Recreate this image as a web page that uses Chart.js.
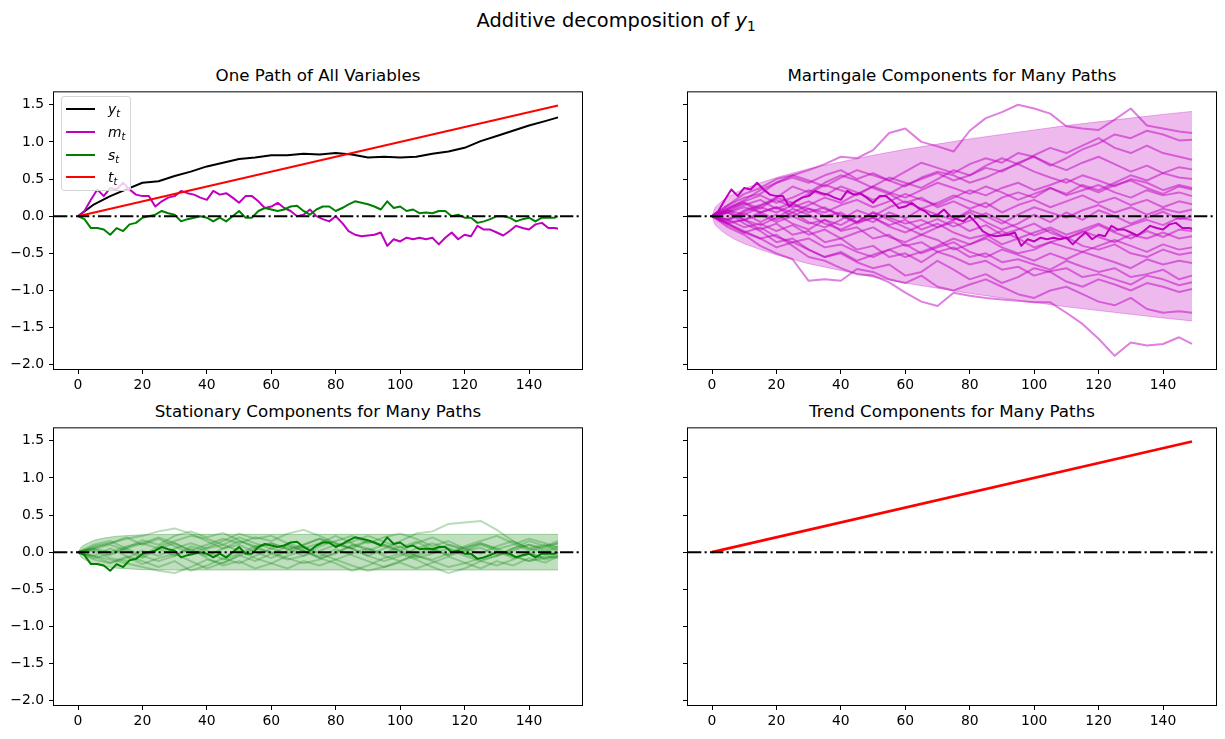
<!DOCTYPE html>
<html>
<head>
<meta charset="utf-8">
<title>Additive decomposition of y1</title>
<script src="https://cdn.jsdelivr.net/npm/chart.js@4.4.0/dist/chart.umd.min.js"></script>
<style>
    body { margin: 0; width: 1225px; height: 739px; overflow: hidden; background: #fff;
           font-family: "DejaVu Sans", sans-serif; color: #000; position: relative; }
    canvas { position: absolute; }
    .title { position: absolute; text-align: center; white-space: nowrap; }
    .suptitle { left: 116px; width: 1000px; top: 11px; font-size: 19.4px; line-height: 19.4px; }
    .panel-title { width: 528px; font-size: 16.7px; line-height: 16.7px; }
    sub { font-size: 0.7em; vertical-align: -0.3em; line-height: 0; }
    #legend { position: absolute; left: 61px; top: 96px; width: 68px; height: 93px;
              border: 1px solid #d6d6d6; border-radius: 3px; background: rgba(255,255,255,0.8); }
    #legend .row { position: absolute; left: 0; height: 20px; width: 68px; }
    #legend .swatch { position: absolute; left: 4px; top: 9px; width: 29px; height: 2px; }
    #legend .label { position: absolute; left: 46px; top: 0; font-size: 13.9px; line-height: 20px; font-style: italic; }
</style>
</head>
<body>
<div class="title suptitle">Additive decomposition of <i>y</i><sub>1</sub></div>
<div class="title panel-title" style="left:54px; top:67px">One Path of All Variables</div>
<div class="title panel-title" style="left:688px; top:67px">Martingale Components for Many Paths</div>
<div class="title panel-title" style="left:54px; top:403px">Stationary Components for Many Paths</div>
<div class="title panel-title" style="left:688px; top:403px">Trend Components for Many Paths</div>

<canvas id="allVars" width="590" height="330" style="left:0px; top:79px"></canvas>
<canvas id="martingale" width="590" height="330" style="left:634px; top:79px"></canvas>
<canvas id="stationary" width="590" height="330" style="left:0px; top:415px"></canvas>
<canvas id="trend" width="590" height="330" style="left:634px; top:415px"></canvas>

<div id="legend">
    <div class="row" style="top:2px"><div class="swatch" style="background:#000"></div><div class="label">y<sub>t</sub></div></div>
    <div class="row" style="top:25px"><div class="swatch" style="background:#bf00bf"></div><div class="label">m<sub>t</sub></div></div>
    <div class="row" style="top:48px"><div class="swatch" style="background:#008000"></div><div class="label">s<sub>t</sub></div></div>
    <div class="row" style="top:70px"><div class="swatch" style="background:#ff0000"></div><div class="label">t<sub>t</sub></div></div>
</div>

<script>
const tFine = [0, 2, 4, 6, 8, 10, 12, 14, 16, 18, 20, 22, 24, 26, 28, 30, 32, 34, 36, 38,
    40, 42, 44, 46, 48, 50, 52, 54, 56, 58, 60, 62, 64, 66, 68, 70, 72, 74, 76, 78,
    80, 82, 84, 86, 88, 90, 92, 94, 96, 98, 100, 102, 104, 106, 108, 110, 112, 114, 116, 118,
    120, 122, 124, 126, 128, 130, 132, 134, 136, 138, 140, 142, 144, 146, 148, 149];
const tCoarse = [0, 5, 10, 15, 20, 25, 30, 35, 40, 45, 50, 55, 60, 65, 70, 75, 80, 85, 90, 95,
    100, 105, 110, 115, 120, 125, 130, 135, 140, 145, 149];

// one path of all variables
const yPath = [0, 0.16, 0.27, 0.36, 0.45, 0.47, 0.54, 0.60, 0.67, 0.72, 0.77, 0.79, 0.82, 0.82, 0.84, 0.83,
    0.85, 0.83, 0.79, 0.80, 0.79, 0.80, 0.84, 0.87, 0.92, 1.01, 1.08, 1.15, 1.22, 1.28, 1.33];
const mPath = [0, 0.07, 0.22, 0.36, 0.27, 0.38, 0.36, 0.45, 0.36, 0.29,
    0.27, 0.27, 0.13, 0.20, 0.25, 0.27, 0.34, 0.31, 0.29, 0.25,
    0.22, 0.34, 0.29, 0.31, 0.25, 0.18, 0.27, 0.27, 0.20, 0.11,
    0.13, 0.18, 0.11, 0.07, 0.00, 0.02, 0.09, 0.00, -0.04, -0.07,
    0.00, -0.09, -0.20, -0.25, -0.27, -0.26, -0.25, -0.22, -0.40, -0.31,
    -0.34, -0.29, -0.31, -0.29, -0.31, -0.29, -0.38, -0.29, -0.22, -0.31,
    -0.25, -0.27, -0.13, -0.18, -0.18, -0.22, -0.26, -0.20, -0.13, -0.16,
    -0.18, -0.11, -0.09, -0.16, -0.16, -0.17];
const sPath = [0, -0.04, -0.16, -0.16, -0.18, -0.25, -0.16, -0.20, -0.11, -0.09,
    -0.02, 0.00, 0.02, 0.07, 0.04, 0.02, -0.07, -0.04, -0.02, 0.00,
    -0.02, -0.07, -0.02, -0.07, 0.00, 0.07, -0.02, -0.02, 0.07, 0.11,
    0.09, 0.07, 0.09, 0.13, 0.14, 0.07, 0.02, 0.09, 0.13, 0.13,
    0.07, 0.11, 0.16, 0.20, 0.18, 0.16, 0.13, 0.09, 0.20, 0.11,
    0.13, 0.07, 0.09, 0.04, 0.05, 0.04, 0.07, 0.07, 0.00, 0.02,
    -0.02, -0.02, -0.09, -0.07, -0.04, 0.00, 0.00, -0.02, -0.07, -0.04,
    -0.02, -0.07, -0.02, -0.02, -0.02, 0.00];
const trendT = [0, 149];
const trendPath = [0, 1.49];

// martingale components, many paths (sampled every 5 steps)
const martingalePaths = [
    [0, 0.15, 0.25, 0.30, 0.45, 0.55, 0.62, 0.70, 0.80, 0.78, 0.89, 1.12, 1.18, 1.00, 0.94, 0.87, 1.15, 1.32, 1.40, 1.50, 1.45, 1.38, 1.21, 1.18, 1.16, 1.30, 1.45, 1.22, 1.18, 1.14, 1.12],
    [0, -0.10, -0.20, -0.30, -0.25, -0.40, -0.55, -0.60, -0.70, -0.78, -0.80, -0.89, -1.03, -1.15, -1.21, -1.03, -1.07, -1.10, -1.12, -1.14, -1.16, -1.16, -1.30, -1.45, -1.65, -1.88, -1.70, -1.74, -1.72, -1.63, -1.72],
    [0, -0.15, -0.25, -0.40, -0.50, -0.58, -0.87, -0.85, -0.87, -0.71, -0.75, -0.85, -0.90, -0.80, -0.95, -1.00, -0.92, -0.85, -0.95, -1.05, -1.10, -1.00, -0.95, -1.05, -1.15, -1.20, -1.10, -1.25, -1.30, -1.28, -1.30],
    [0, 0.05, -0.10, -0.20, -0.35, -0.30, -0.45, -0.55, -0.50, -0.62, -0.70, -0.65, -0.80, -0.75, -0.60, -0.72, -0.85, -0.78, -0.90, -0.82, -0.70, -0.75, -0.88, -0.95, -0.85, -0.92, -1.00, -0.90, -0.95, -1.02, -0.98],
    [0, -0.08, -0.05, -0.18, -0.10, -0.25, -0.20, -0.35, -0.30, -0.45, -0.40, -0.55, -0.50, -0.62, -0.48, -0.55, -0.65, -0.60, -0.72, -0.68, -0.80, -0.74, -0.70, -0.82, -0.78, -0.85, -0.92, -0.80, -0.85, -0.93, -0.89],
    [0, 0.10, 0.18, 0.05, 0.12, 0.00, -0.10, -0.05, -0.20, -0.15, -0.30, -0.25, -0.40, -0.35, -0.48, -0.42, -0.55, -0.50, -0.62, -0.58, -0.65, -0.72, -0.60, -0.68, -0.75, -0.70, -0.82, -0.78, -0.72, -0.85, -0.80],
    [0, -0.12, -0.22, -0.15, -0.28, -0.35, -0.30, -0.42, -0.38, -0.48, -0.55, -0.45, -0.38, -0.50, -0.42, -0.35, -0.48, -0.55, -0.45, -0.52, -0.60, -0.50, -0.58, -0.48, -0.55, -0.62, -0.70, -0.58, -0.65, -0.60, -0.63],
    [0, 0.08, 0.02, 0.12, 0.05, 0.15, 0.10, 0.00, 0.05, -0.08, -0.02, -0.12, -0.05, -0.18, -0.10, -0.22, -0.30, -0.25, -0.38, -0.30, -0.42, -0.35, -0.28, -0.40, -0.45, -0.38, -0.50, -0.55, -0.45, -0.52, -0.49],
    [0, -0.05, -0.15, -0.10, -0.20, -0.12, -0.25, -0.18, -0.30, -0.22, -0.15, -0.28, -0.35, -0.25, -0.32, -0.45, -0.38, -0.30, -0.42, -0.50, -0.45, -0.35, -0.42, -0.48, -0.40, -0.32, -0.40, -0.48, -0.38, -0.45, -0.42],
    [0, 0.06, 0.15, 0.22, 0.10, 0.18, 0.05, 0.12, 0.00, -0.08, 0.05, -0.02, -0.10, -0.05, -0.15, -0.08, -0.20, -0.12, -0.25, -0.18, -0.10, -0.22, -0.30, -0.20, -0.28, -0.35, -0.25, -0.30, -0.22, -0.30, -0.27],
    [0, -0.06, 0.04, -0.08, 0.02, -0.10, -0.18, -0.05, -0.12, 0.00, -0.08, 0.05, -0.03, 0.10, 0.02, -0.05, 0.08, 0.00, -0.10, 0.02, 0.12, 0.05, -0.02, 0.08, 0.15, 0.05, 0.12, 0.02, 0.10, 0.05, 0.09],
    [0, 0.12, 0.20, 0.28, 0.18, 0.25, 0.35, 0.28, 0.40, 0.32, 0.22, 0.30, 0.18, 0.25, 0.12, 0.20, 0.10, 0.18, 0.05, 0.15, 0.22, 0.12, 0.20, 0.28, 0.18, 0.25, 0.15, 0.22, 0.12, 0.20, 0.16],
    [0, -0.10, -0.05, 0.05, 0.12, 0.05, 0.15, 0.25, 0.18, 0.30, 0.40, 0.32, 0.25, 0.35, 0.45, 0.38, 0.30, 0.40, 0.32, 0.22, 0.30, 0.38, 0.28, 0.35, 0.42, 0.32, 0.25, 0.35, 0.28, 0.32, 0.27],
    [0, 0.05, -0.05, 0.02, -0.08, 0.00, 0.10, 0.05, 0.15, 0.22, 0.12, 0.20, 0.30, 0.22, 0.15, 0.25, 0.35, 0.28, 0.38, 0.45, 0.35, 0.42, 0.50, 0.40, 0.32, 0.42, 0.48, 0.38, 0.30, 0.40, 0.36],
    [0, 0.10, 0.22, 0.35, 0.45, 0.52, 0.45, 0.55, 0.62, 0.50, 0.58, 0.48, 0.40, 0.52, 0.60, 0.55, 0.45, 0.52, 0.62, 0.70, 0.60, 0.52, 0.45, 0.55, 0.48, 0.40, 0.50, 0.45, 0.35, 0.42, 0.38],
    [0, 0.08, 0.18, 0.10, 0.25, 0.40, 0.32, 0.45, 0.55, 0.48, 0.38, 0.30, 0.42, 0.50, 0.58, 0.48, 0.55, 0.65, 0.60, 0.72, 0.80, 0.70, 0.62, 0.72, 0.80, 0.70, 0.60, 0.68, 0.58, 0.66, 0.63],
    [0, -0.05, 0.08, 0.15, 0.25, 0.18, 0.30, 0.42, 0.35, 0.28, 0.40, 0.52, 0.45, 0.38, 0.50, 0.62, 0.55, 0.68, 0.78, 0.70, 0.82, 0.92, 0.85, 0.95, 1.05, 0.92, 0.85, 0.95, 0.85, 0.80, 0.76],
    [0, 0.15, 0.30, 0.38, 0.50, 0.55, 0.48, 0.40, 0.52, 0.62, 0.55, 0.48, 0.60, 0.72, 0.65, 0.58, 0.70, 0.78, 0.72, 0.85, 0.80, 0.68, 0.78, 0.90, 0.98, 1.10, 1.05, 1.15, 1.10, 1.02, 1.03],
    [0, -0.10, -0.22, -0.30, -0.42, -0.35, -0.45, -0.55, -0.48, -0.60, -0.52, -0.45, -0.55, -0.48, -0.40, -0.30, -0.38, -0.28, -0.20, -0.30, -0.22, -0.15, -0.25, -0.18, -0.10, -0.20, -0.12, -0.05, -0.12, -0.02, -0.05],
    [0, 0.05, 0.12, 0.05, -0.05, 0.05, -0.08, -0.15, -0.05, 0.08, 0.00, 0.12, 0.20, 0.10, 0.18, 0.28, 0.20, 0.12, 0.25, 0.32, 0.25, 0.38, 0.30, 0.42, 0.35, 0.45, 0.55, 0.48, 0.58, 0.52, 0.50],
    [0, 0.08, -0.05, -0.12, -0.02, 0.10, 0.02, -0.10, -0.18, -0.08, 0.05, -0.05, -0.15, -0.25, -0.15, -0.05, 0.05, -0.08, -0.18, -0.10, 0.02, -0.08, 0.05, -0.05, 0.08, 0.00, -0.10, -0.02, 0.06, -0.04, 0.00],
    [0, -0.04, 0.06, 0.14, 0.22, 0.12, 0.20, 0.10, 0.02, -0.10, -0.02, -0.14, -0.22, -0.12, -0.04, -0.14, -0.06, 0.04, -0.06, -0.16, -0.26, -0.18, -0.30, -0.22, -0.12, -0.22, -0.30, -0.20, -0.28, -0.18, -0.20]
];
const martBandT = [0, 1, 2, 3, 5, 7, 10, 15, 20, 30, 40, 50, 60, 70, 80, 90, 100, 110, 120, 130, 140, 149];
const martBandUpper = [0, 0.12, 0.16, 0.20, 0.26, 0.31, 0.37, 0.45, 0.52, 0.64, 0.73, 0.82, 0.90, 0.97, 1.04, 1.10, 1.16, 1.22, 1.27, 1.32, 1.37, 1.41];
const martBandLower = [0, -0.12, -0.16, -0.20, -0.26, -0.31, -0.37, -0.45, -0.52, -0.64, -0.73, -0.82, -0.90, -0.97, -1.04, -1.10, -1.16, -1.22, -1.27, -1.32, -1.37, -1.41];

// stationary components, many paths (sampled every 5 steps)
const stationaryPaths = [
    [0, 0.05, 0.10, 0.02, -0.08, 0.05, -0.05, 0.08, 0.02, -0.10, -0.02, 0.08, 0.12, 0.05, -0.05, 0.02, 0.10, 0.05, -0.05, 0.05, 0.15, 0.25, 0.28, 0.38, 0.40, 0.42, 0.30, 0.15, 0.05, 0.00, 0.05],
    [0, 0.08, 0.12, 0.18, 0.22, 0.28, 0.32, 0.25, 0.15, 0.05, 0.10, 0.00, -0.08, 0.02, 0.10, 0.18, 0.12, 0.05, -0.05, -0.12, -0.05, 0.05, 0.12, 0.05, -0.02, -0.10, -0.05, 0.05, 0.10, 0.02, 0.08],
    [0, -0.05, -0.10, -0.15, -0.20, -0.25, -0.28, -0.20, -0.10, -0.15, -0.05, 0.05, 0.00, -0.08, -0.15, -0.10, 0.00, 0.08, 0.15, 0.10, 0.02, -0.05, -0.12, -0.20, -0.15, -0.08, 0.00, -0.05, -0.12, -0.05, -0.08],
    [0, 0.05, 0.00, 0.08, 0.12, 0.05, 0.12, 0.02, 0.10, 0.18, 0.12, 0.20, 0.15, 0.25, 0.30, 0.22, 0.12, 0.05, 0.15, 0.08, 0.00, -0.08, -0.02, 0.05, -0.05, -0.12, -0.05, 0.02, 0.10, 0.05, 0.12],
    [0, -0.08, -0.02, 0.05, -0.05, -0.12, -0.05, 0.05, -0.08, -0.18, -0.12, -0.22, -0.15, -0.05, 0.02, -0.08, -0.15, -0.25, -0.18, -0.08, -0.02, -0.10, -0.20, -0.28, -0.22, -0.12, -0.18, -0.10, -0.02, -0.08, -0.05],
    [0, 0.10, 0.15, 0.05, 0.12, 0.20, 0.12, 0.02, -0.05, 0.05, 0.15, 0.08, -0.02, -0.10, -0.05, 0.08, 0.15, 0.22, 0.12, 0.20, 0.25, 0.18, 0.08, 0.15, 0.05, -0.02, 0.08, 0.15, 0.05, 0.10, 0.02],
    [0, -0.10, -0.15, -0.08, 0.02, -0.05, 0.05, 0.12, 0.05, 0.10, 0.02, -0.08, -0.15, -0.22, -0.12, -0.18, -0.10, -0.02, 0.05, -0.05, -0.12, -0.05, 0.02, 0.10, 0.05, 0.12, 0.05, -0.05, -0.12, -0.08, -0.02],
    [0, 0.02, -0.08, -0.12, -0.05, 0.08, 0.15, 0.22, 0.18, 0.10, 0.20, 0.12, 0.05, 0.10, 0.02, -0.08, -0.02, 0.10, 0.05, -0.02, 0.08, -0.05, -0.10, -0.02, 0.08, 0.15, 0.22, 0.12, 0.02, 0.08, 0.12],
    [0, -0.05, 0.05, -0.05, -0.12, -0.20, -0.12, -0.25, -0.18, -0.08, -0.15, -0.05, 0.05, -0.02, 0.08, -0.02, -0.10, -0.18, -0.25, -0.20, -0.12, -0.02, 0.05, -0.05, 0.02, 0.10, 0.02, -0.08, 0.00, -0.10, -0.05],
    [0, 0.06, 0.12, 0.20, 0.10, 0.18, 0.08, -0.02, 0.06, 0.15, 0.25, 0.18, 0.22, 0.12, 0.05, 0.12, 0.22, 0.12, 0.02, 0.10, 0.02, 0.12, 0.20, 0.10, 0.02, 0.06, -0.04, 0.05, 0.15, 0.08, 0.15],
    [0, -0.06, -0.14, -0.06, -0.16, -0.08, -0.02, -0.12, -0.22, -0.14, -0.04, -0.12, -0.02, 0.08, 0.02, -0.06, 0.04, -0.04, -0.12, -0.20, -0.14, -0.22, -0.14, -0.06, -0.14, -0.22, -0.12, -0.18, -0.08, -0.14, -0.06],
    [0, 0.04, -0.04, 0.06, 0.16, 0.10, 0.22, 0.28, 0.20, 0.26, 0.16, 0.06, 0.12, 0.04, 0.10, 0.18, 0.08, 0.14, 0.22, 0.14, 0.06, 0.14, 0.04, -0.04, 0.06, 0.12, 0.04, 0.10, 0.18, 0.12, 0.06]
];
const statBandT = [0, 1, 2, 3, 5, 8, 12, 20, 30, 149];
const statBandUpper = [0, 0.07, 0.10, 0.12, 0.16, 0.19, 0.215, 0.235, 0.24, 0.24];
const statBandLower = [0, -0.07, -0.10, -0.12, -0.16, -0.19, -0.215, -0.235, -0.24, -0.24];

// axes
const xTickValues = [0, 20, 40, 60, 80, 100, 120, 140];
const xTickLabels = ['0', '20', '40', '60', '80', '100', '120', '140'];
const yTickValues = [-2.0, -1.5, -1.0, -0.5, 0.0, 0.5, 1.0, 1.5];
const yTickLabels = ['\u22122.0', '\u22121.5', '\u22121.0', '\u22120.5', '0.0', '0.5', '1.0', '1.5'];
const xLimits = [-7.45, 156.45];
const yLimits = [-2.057, 1.667];

const tickFont = { family: 'DejaVu Sans', size: 13.9 };

const toPoints = (ts, vals) => ts.map((t, i) => ({ x: t, y: vals[i] }));

function lineSet(ts, vals, color, width, order) {
    return {
        data: toPoints(ts, vals),
        borderColor: color,
        borderWidth: width,
        fill: false,
        order: order
    };
}

function bandSets(ts, upper, lower, fillColor, edgeColor) {
    return [
        { data: toPoints(ts, upper), borderColor: edgeColor, borderWidth: 1,
          backgroundColor: fillColor, fill: '+1', order: 10 },
        { data: toPoints(ts, lower), borderColor: edgeColor, borderWidth: 1, fill: false, order: 10 }
    ];
}

// axes frame and the dash-dot zero line, drawn over the data like matplotlib does
const framePlugin = {
    id: 'frame',
    afterDatasetsDraw(chart) {
        const { ctx, chartArea: a, scales } = chart;
        const y0 = scales.y.getPixelForValue(0);
        ctx.save();
        ctx.strokeStyle = '#000';
        ctx.lineWidth = 2;
        ctx.setLineDash([13.3, 3.3, 2.1, 3.3]);
        ctx.beginPath();
        ctx.moveTo(a.left, y0);
        ctx.lineTo(a.right, y0);
        ctx.stroke();
        ctx.setLineDash([]);
        ctx.lineWidth = 1;
        ctx.strokeRect(a.left - 0.5, a.top - 0.5, a.right - a.left + 1, a.bottom - a.top + 1);
        ctx.restore();
    }
};

function buildScales(showYLabels) {
    const grid = { drawOnChartArea: false, drawTicks: true, tickLength: 5, color: '#000', lineWidth: 1 };
    return {
        x: {
            type: 'linear', min: xLimits[0], max: xLimits[1],
            afterBuildTicks: axis => { axis.ticks = xTickValues.map(v => ({ value: v })); },
            afterFit: axis => { axis.height = 40; },
            grid: grid,
            border: { display: false },
            ticks: { color: '#000', font: tickFont, padding: 3, maxRotation: 0, autoSkip: false,
                     callback: (v, i) => xTickLabels[i] }
        },
        y: {
            type: 'linear', min: yLimits[0], max: yLimits[1],
            afterBuildTicks: axis => { axis.ticks = yTickValues.map(v => ({ value: v })); },
            afterFit: axis => { axis.width = 54; },
            grid: grid,
            border: { display: false },
            ticks: { color: '#000', font: tickFont, padding: 5, autoSkip: false,
                     callback: (v, i) => showYLabels ? yTickLabels[i] : '' }
        }
    };
}

function makeChart(canvasId, datasets, showYLabels) {
    return new Chart(document.getElementById(canvasId), {
        type: 'line',
        data: { datasets: datasets },
        options: {
            responsive: false,
            animation: false,
            devicePixelRatio: 1,
            layout: { padding: { top: 10, right: 8, bottom: 0, left: 0 } },
            elements: { point: { radius: 0 }, line: { tension: 0, borderJoinStyle: 'round' } },
            plugins: { legend: { display: false }, tooltip: { enabled: false }, title: { display: false } },
            scales: buildScales(showYLabels)
        },
        plugins: [framePlugin]
    });
}

document.addEventListener('DOMContentLoaded', () => {
    makeChart('allVars', [
        lineSet(trendT, trendPath, '#ff0000', 2, 1),
        lineSet(tFine, sPath, '#008000', 2, 2),
        lineSet(tFine, mPath, '#bf00bf', 2, 3),
        lineSet(tCoarse, yPath, '#000000', 2, 4)
    ], true);

    makeChart('martingale', [
        lineSet(tFine, mPath, '#bf00bf', 2, 1),
        ...martingalePaths.map(p => lineSet(tCoarse, p, 'rgba(191,0,191,0.5)', 2, 2)),
        ...bandSets(martBandT, martBandUpper, martBandLower, 'rgba(191,0,191,0.27)', 'rgba(191,0,191,0.3)')
    ], false);

    makeChart('stationary', [
        lineSet(tFine, sPath, '#008000', 2, 1),
        ...stationaryPaths.map(p => lineSet(tCoarse, p, 'rgba(0,128,0,0.28)', 2, 2)),
        ...bandSets(statBandT, statBandUpper, statBandLower, 'rgba(0,128,0,0.25)', 'rgba(0,128,0,0.3)')
    ], true);

    makeChart('trend', [
        lineSet(trendT, trendPath, '#ff0000', 2.8, 1)
    ], false);
});
</script>
</body>
</html>
